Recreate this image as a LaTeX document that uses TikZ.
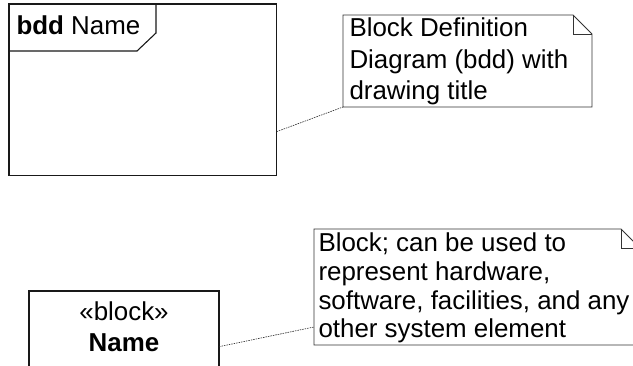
\documentclass[tikz,border=0pt]{standalone}
\usepackage{fontspec}
\setmainfont{Liberation Sans}
\begin{document}
\begin{tikzpicture}[x=1pt,y=-1pt,
  frameline/.style={line width=1.1pt, draw=black!90},
  noteline/.style={line width=0.9pt, draw=black!80},
  emptybox/.style={inner sep=0, outer sep=0, anchor=north west},
  linkline/.style={line width=0.6pt, draw=black!85, dash pattern=on 1.5pt off 1pt},
  txt/.style={inner sep=0, outer sep=0, anchor=base west, font=\fontsize{25.9}{31}\selectfont},
  ctxt/.style={inner sep=0, outer sep=0, anchor=base, font=\fontsize{25.9}{31}\selectfont}]
\useasboundingbox (0,0) rectangle (633,366);
\fill[white] (0,0) rectangle (633,366);
% frame
\node[emptybox, frameline, draw, minimum width=267.5pt, minimum height=171.5pt] (frame) at (9,4) {};
\draw[frameline] (9,51) -- (137,51) -- (156,33) -- (156,4);
\node[txt] (title) at (16.5,35) {\textbf{bdd} Name};
% note 1
\node[emptybox, minimum width=249pt, minimum height=92pt] (note1) at (343,15) {};
\draw[noteline] (note1.south west) -- (note1.north west) -- ([xshift=-19pt]note1.north east)
  -- ([yshift=-19pt]note1.north east) -- (note1.south east) -- cycle;
\draw[noteline] ([xshift=-19pt]note1.north east) |- ([yshift=-19pt]note1.north east);
\node[txt] (n1a) at (349.5,37) {Block Definition};
\node[txt] (n1b) at (349.5,68.5) {Diagram (bdd) with};
\node[txt] (n1c) at (349.5,100) {drawing title};
\coordinate (c1) at (276.5,131.7);
\draw[linkline] (c1) -- (note1.south west);
% block
\node[emptybox, frameline, draw, minimum width=190pt, minimum height=100pt] (block) at (29,291) {};
\node[ctxt] (st) at (124,321) {«block»};
\node[ctxt] (bn) at (124,351.7) {\textbf{Name}};
% note 2
\node[emptybox, minimum width=326pt, minimum height=116pt] (note2) at (314,229) {};
\draw[noteline] (note2.south west) -- (note2.north west) -- ([xshift=-19pt]note2.north east)
  -- ([yshift=-19pt]note2.north east) -- (note2.south east) -- cycle;
\draw[noteline] ([xshift=-19pt]note2.north east) |- ([yshift=-19pt]note2.north east);
\node[txt] (n2a) at (318.5,251.7) {Block; can be used to};
\node[txt] (n2b) at (318.5,280.5) {represent hardware,};
\node[txt] (n2c) at (318.5,309.5) {software, facilities, and any};
\node[txt] (n2d) at (318.5,338) {other system element};
\coordinate (c2) at (219,346.7);
\draw[linkline] (c2) -- (note2.west |- 0,327);
\end{tikzpicture}
\end{document}
